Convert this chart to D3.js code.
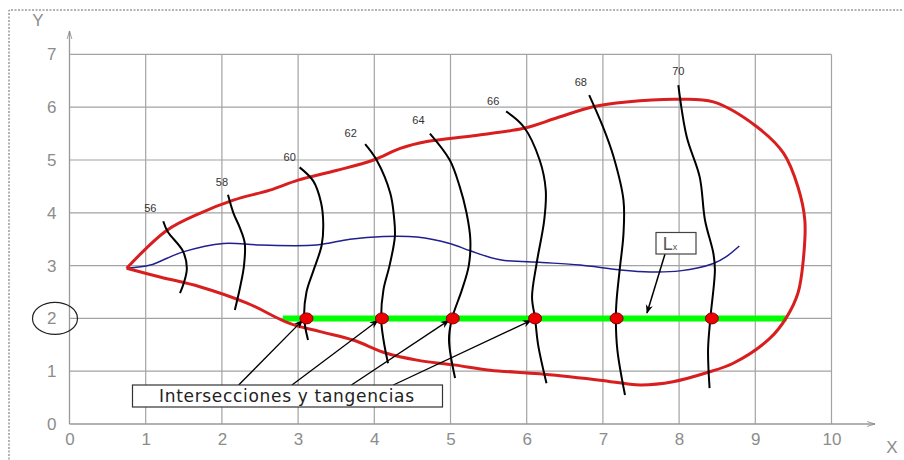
<!DOCTYPE html>
<html>
<head>
<meta charset="utf-8">
<script src="https://cdn.jsdelivr.net/npm/d3@7"></script>
<style>
  body { margin: 0; background: #fff; }
  svg { display: block; font-family: "Liberation Sans", Arial, sans-serif; }
</style>
</head>
<body>
<svg class="graph"></svg>
<script>
// ticks
let xTicks = [0, 1, 2, 3, 4, 5, 6, 7, 8, 9, 10]
let yTicks = [0, 1, 2, 3, 4, 5, 6, 7]

// red contour, starts and ends at the left tip
let outline = [
    [0.75, 2.95], [1.28, 3.67], [1.71, 3.99], [2.15, 4.24], [2.63, 4.43], [3.0, 4.62],
    [3.5, 4.8], [3.99, 5.0], [4.34, 5.22], [4.69, 5.35], [5.3, 5.46], [5.96, 5.6],
    [6.4, 5.8], [6.87, 6.01], [7.31, 6.1], [7.97, 6.15], [8.45, 6.1], [9.02, 5.63],
    [9.37, 5.13], [9.56, 4.49], [9.65, 3.86], [9.63, 3.11], [9.56, 2.48], [9.41, 2.02],
    [9.19, 1.62], [8.71, 1.15], [8.36, 0.97], [7.92, 0.8], [7.49, 0.74], [6.96, 0.83],
    [6.17, 0.95], [5.52, 1.02], [5.04, 1.12], [4.56, 1.21], [4.16, 1.34], [3.72, 1.59],
    [3.29, 1.75], [2.88, 1.91], [2.33, 2.29], [1.71, 2.6], [1.2, 2.78], [0.75, 2.95]
]

// blue mid line
let midLine = [
    [0.75, 2.95], [1.06, 3.01], [1.28, 3.14], [1.49, 3.26], [2.02, 3.42], [2.5, 3.39],
    [3.24, 3.39], [3.68, 3.5], [4.12, 3.55], [4.56, 3.54], [4.99, 3.42], [5.26, 3.28],
    [5.65, 3.11], [6.2, 3.06], [6.7, 3.01], [7.22, 2.92], [7.62, 2.88], [8.01, 2.9],
    [8.45, 3.04], [8.62, 3.17], [8.79, 3.37]
]

// black level curves
let levels = [
    { name: "56", at: [1.06, 4.09], pts: [[1.23, 3.84], [1.29, 3.64], [1.49, 3.27], [1.54, 2.95], [1.5, 2.67], [1.45, 2.48]] },
    { name: "58", at: [2.0, 4.58], pts: [[2.08, 4.34], [2.15, 4.0], [2.24, 3.7], [2.3, 3.42], [2.29, 3.0], [2.24, 2.6], [2.17, 2.16]] },
    { name: "60", at: [2.89, 5.06], pts: [[3.02, 4.86], [3.2, 4.6], [3.3, 4.2], [3.33, 3.8], [3.31, 3.39], [3.2, 2.9], [3.11, 2.5], [3.08, 2.0], [3.13, 1.59]] },
    { name: "62", at: [3.69, 5.52], pts: [[3.88, 5.3], [4.03, 5.0], [4.21, 4.37], [4.26, 3.9], [4.27, 3.55], [4.2, 3.0], [4.12, 2.54], [4.09, 2.0], [4.12, 1.6], [4.18, 1.15]] },
    { name: "64", at: [4.58, 5.76], pts: [[4.73, 5.5], [4.99, 5.0], [5.12, 4.5], [5.21, 4.0], [5.26, 3.5], [5.24, 3.0], [5.15, 2.54], [5.02, 2.0], [4.98, 1.6], [5.06, 0.87]] },
    { name: "66", at: [5.56, 6.12], pts: [[5.73, 5.92], [5.96, 5.63], [6.17, 5.0], [6.25, 4.43], [6.23, 3.86], [6.13, 3.04], [6.07, 2.4], [6.11, 2.0], [6.15, 1.5], [6.26, 0.77]] },
    { name: "68", at: [6.71, 6.48], pts: [[6.82, 6.23], [7.0, 5.63], [7.14, 5.06], [7.27, 4.24], [7.27, 3.6], [7.22, 2.92], [7.18, 2.35], [7.17, 2.0], [7.19, 1.4], [7.29, 0.55]] },
    { name: "70", at: [7.99, 6.69], pts: [[7.99, 6.42], [8.1, 5.44], [8.27, 4.68], [8.34, 3.86], [8.45, 3.23], [8.47, 2.92], [8.41, 2.0], [8.38, 1.4], [8.4, 0.68]] }
]

// green line Lx and intersection points
let lxY = 2
let lxRange = [2.8, 9.41]
let hits = [3.11, 4.1, 5.03, 6.11, 7.18, 8.43]
let arrowStarts = [2.22, 2.92, 3.7, 4.25]
let noteText = "Intersecciones y tangencias"

var width = 904, height = 460

var svg = d3.select(".graph")
    .attr("width", width)
    .attr("height", height)

var x = d3.scaleLinear().domain([0, 10]).range([69.5, 831.5])
var y = d3.scaleLinear().domain([0, 7]).range([424, 54.4])

var defs = svg.append("defs")
defs.append("marker")
    .attr("id", "arr")
    .attr("viewBox", "0 0 10 10")
    .attr("refX", 9).attr("refY", 5)
    .attr("markerWidth", 10).attr("markerHeight", 9)
    .attr("markerUnits", "userSpaceOnUse")
    .attr("orient", "auto")
    .append("path")
    .attr("d", "M0,1 L10,5 L0,9 L3,5 Z")
    .attr("fill", "#000")

defs.append("marker")
    .attr("id", "axarr")
    .attr("viewBox", "0 0 10 10")
    .attr("refX", 10).attr("refY", 5)
    .attr("markerWidth", 8).attr("markerHeight", 8)
    .attr("markerUnits", "userSpaceOnUse")
    .attr("orient", "auto")
    .append("path")
    .attr("d", "M0,2 L10,5 L0,8")
    .attr("fill", "none")
    .attr("stroke", "#888")

// dashed frame
svg.append("path")
    .attr("d", "M9,470 L9,10 L902,10")
    .attr("fill", "none")
    .attr("stroke", "#666")
    .attr("stroke-dasharray", "2,1.5")

// grid
svg.selectAll(".vgrid")
    .data(xTicks.slice(1))
    .enter().append("line")
    .attr("x1", (d) => x(d)).attr("x2", (d) => x(d))
    .attr("y1", y(0)).attr("y2", y(7))
    .attr("stroke", "#a3a3a3").attr("stroke-width", 1.2)

svg.selectAll(".hgrid")
    .data(yTicks.slice(1))
    .enter().append("line")
    .attr("x1", x(0)).attr("x2", x(10))
    .attr("y1", (d) => y(d)).attr("y2", (d) => y(d))
    .attr("stroke", "#a3a3a3").attr("stroke-width", 1.2)

// axes lines with arrows
svg.append("line")
    .attr("x1", x(0)).attr("y1", y(0)).attr("x2", 875).attr("y2", y(0))
    .attr("stroke", "#999").attr("stroke-width", 1.3)
    .attr("marker-end", "url(#axarr)")
svg.append("line")
    .attr("x1", x(0)).attr("y1", y(0)).attr("x2", x(0)).attr("y2", 31)
    .attr("stroke", "#999").attr("stroke-width", 1.3)
    .attr("marker-end", "url(#axarr)")

// tick labels
var xAxis = svg.append("g")
    .attr("transform", "translate(0," + (y(0) + 6) + ")")
    .call(d3.axisBottom(x).tickValues(xTicks).tickSize(0).tickFormat(d3.format("d")))
xAxis.select(".domain").remove()
xAxis.selectAll("text").attr("fill", "#8c8c8c").style("font-size", "17px")

var yAxis = svg.append("g")
    .attr("transform", "translate(" + (x(0) - 10) + ",0)")
    .call(d3.axisLeft(y).tickValues(yTicks).tickSize(0).tickFormat(d3.format("d")))
yAxis.select(".domain").remove()
yAxis.selectAll("text").attr("fill", "#8c8c8c").style("font-size", "17px")

svg.append("text").attr("x", 38).attr("y", 26).attr("text-anchor", "middle")
    .attr("fill", "#8c8c8c").style("font-size", "17px").text("Y")
svg.append("text").attr("x", 892).attr("y", 453).attr("text-anchor", "middle")
    .attr("fill", "#8c8c8c").style("font-size", "17px").text("X")

// circle around y label 2
svg.append("ellipse")
    .attr("cx", 55).attr("cy", y(2)).attr("rx", 22.5).attr("ry", 16)
    .attr("fill", "none").attr("stroke", "#222").attr("stroke-width", 1.2)

var line = d3.line().x((d) => x(d[0])).y((d) => y(d[1])).curve(d3.curveCatmullRom)

// green Lx
svg.append("line")
    .attr("x1", x(lxRange[0])).attr("x2", x(lxRange[1]))
    .attr("y1", y(lxY)).attr("y2", y(lxY))
    .attr("stroke", "#00ff00").attr("stroke-width", 6)

// blue line
svg.append("path")
    .attr("d", line(midLine))
    .attr("fill", "none").attr("stroke", "#1f1f8f").attr("stroke-width", 1.5)

// red contour
svg.append("path")
    .attr("d", line(outline))
    .attr("fill", "none").attr("stroke", "#d81e1e").attr("stroke-width", 3)
    .attr("stroke-linejoin", "miter")

// level curves
var lev = svg.selectAll(".lev")
    .data(levels)
    .enter().append("g")
    .attr("class", "lev")

lev.append("path")
    .attr("d", (d) => line(d.pts))
    .attr("fill", "none").attr("stroke", "#000").attr("stroke-width", 2)

lev.append("text")
    .attr("x", (d) => x(d.at[0])).attr("y", (d) => y(d.at[1]) + 4)
    .attr("text-anchor", "middle")
    .attr("fill", "#333").style("font-size", "11px")
    .text((d) => d.name)

// arrows to intersections
svg.selectAll(".ann")
    .data(arrowStarts)
    .enter().append("line")
    .attr("x1", (d) => x(d)).attr("y1", 385)
    .attr("x2", (d, i) => x(hits[i]) - 4).attr("y2", y(lxY) + 2)
    .attr("stroke", "#000").attr("stroke-width", 1.3)
    .attr("marker-end", "url(#arr)")

// intersection dots
svg.selectAll(".hit")
    .data(hits)
    .enter().append("ellipse")
    .attr("cx", (d) => x(d)).attr("cy", y(lxY))
    .attr("rx", 6.5).attr("ry", 5.5)
    .attr("fill", "#ee0000").attr("stroke", "#7a0000").attr("stroke-width", 1)

// note box
svg.append("rect")
    .attr("x", 132.5).attr("y", 385).attr("width", 310).attr("height", 22)
    .attr("fill", "#fff").attr("stroke", "#333").attr("stroke-width", 1.2)
svg.append("text")
    .attr("x", 159).attr("y", 402)
    .attr("textLength", 255).attr("lengthAdjust", "spacing")
    .attr("fill", "#222").style("font-size", "17px").style("font-family", "'DejaVu Sans', sans-serif")
    .text(noteText)

// Lx label box with arrow
svg.append("line")
    .attr("x1", 665).attr("y1", 254).attr("x2", 647).attr("y2", 313)
    .attr("stroke", "#000").attr("stroke-width", 1.5)
    .attr("marker-end", "url(#arr)")
svg.append("rect")
    .attr("x", 656).attr("y", 232.5).attr("width", 40).attr("height", 21.5)
    .attr("fill", "#fff").attr("stroke", "#444").attr("stroke-width", 1.2)
var lx = svg.append("text")
    .attr("x", 670).attr("y", 250).attr("text-anchor", "middle")
    .attr("fill", "#555").style("font-size", "18px")
lx.append("tspan").text("L")
lx.append("tspan").style("font-size", "9px").text("x")
</script>
</body>
</html>
